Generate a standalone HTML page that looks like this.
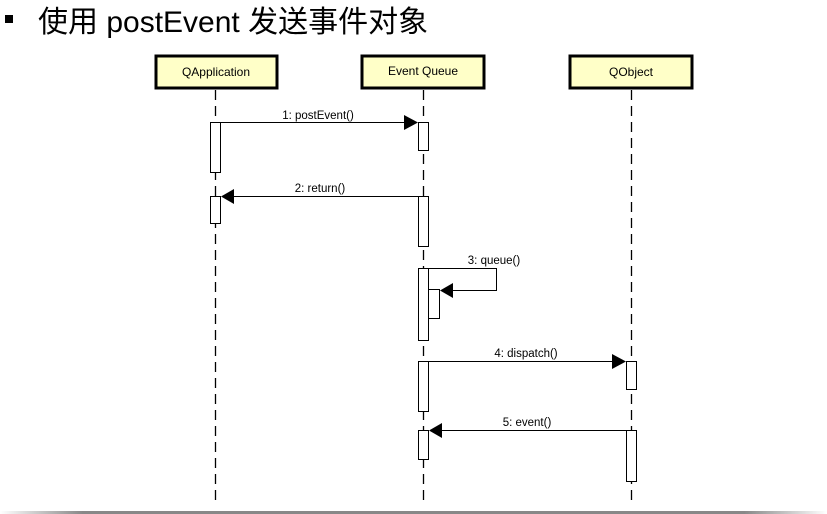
<!DOCTYPE html>
<html><head><meta charset="utf-8"><style>
html,body{margin:0;padding:0;background:#fff;width:827px;height:514px;overflow:hidden}
svg{display:block}
</style></head><body>
<svg width="827" height="514" xmlns="http://www.w3.org/2000/svg">
<defs><linearGradient id="g" x1="0" x2="1"><stop offset="0" stop-color="#fff"/><stop offset="0.1" stop-color="#888"/><stop offset="0.9" stop-color="#888"/><stop offset="1" stop-color="#fff"/></linearGradient></defs>
<rect x="5" y="15" width="8" height="8" fill="#000"/>
<text x="38" y="32" font-family="Liberation Sans, Noto Sans CJK SC, sans-serif" font-size="30" fill="#000">使用 postEvent 发送事件对象</text>
<g font-family="Liberation Sans, sans-serif" font-size="12" fill="#000">
<!-- boxes -->
<g stroke="#000" stroke-width="3" fill="#ffffc8">
<rect x="156" y="56" width="121" height="32"/>
<rect x="362" y="56" width="122" height="32"/>
<rect x="570" y="56" width="122" height="32"/>
</g>
<text x="216" y="76" text-anchor="middle">QApplication</text>
<text x="423" y="75" text-anchor="middle">Event Queue</text>
<text x="631" y="76" text-anchor="middle">QObject</text>
<!-- lifelines -->
<g stroke="#000" stroke-width="1.3" stroke-dasharray="10,6">
<line x1="215.5" y1="90" x2="215.5" y2="506"/>
<line x1="423.5" y1="90" x2="423.5" y2="506"/>
<line x1="631.5" y1="90" x2="631.5" y2="506"/>
</g>
<!-- activations -->
<g stroke="#000" stroke-width="1" fill="#fff">
<rect x="210.5" y="122.5" width="10" height="50"/>
<rect x="210.5" y="196.5" width="10" height="27"/>
<rect x="418.5" y="122.5" width="10" height="28"/>
<rect x="418.5" y="196.5" width="10" height="50"/>
<rect x="418.5" y="268.5" width="10" height="72"/>
<rect x="428.5" y="289.5" width="11" height="29"/>
<rect x="418.5" y="361.5" width="10" height="50"/>
<rect x="418.5" y="430.5" width="10" height="29"/>
<rect x="626.5" y="361.5" width="10" height="28"/>
<rect x="626.5" y="430.5" width="10" height="51"/>
</g>
<!-- messages -->
<g stroke="#000" stroke-width="1" fill="none">
<line x1="220" y1="122.5" x2="406" y2="122.5"/>
<line x1="234" y1="196.5" x2="418" y2="196.5"/>
<polyline points="428,268.5 496.5,268.5 496.5,290.5 452,290.5"/>
<line x1="428" y1="361.5" x2="614" y2="361.5"/>
<line x1="442" y1="430.5" x2="626" y2="430.5"/>
</g>
<g fill="#000">
<polygon points="404,115 418,122.5 404,130"/>
<polygon points="234,189 221,196.5 234,204"/>
<polygon points="453,283 440,290.5 453,298"/>
<polygon points="612,354 626,361.5 612,369"/>
<polygon points="442,423 429,430.5 442,438"/>
</g>
<text x="318" y="119" text-anchor="middle" font-size="11.5">1: postEvent()</text>
<text x="320" y="192" text-anchor="middle" font-size="11.5">2: return()</text>
<text x="494" y="264" text-anchor="middle" font-size="11.5">3: queue()</text>
<text x="526" y="357" text-anchor="middle" font-size="11.5">4: dispatch()</text>
<text x="527" y="426" text-anchor="middle" font-size="11.5">5: event()</text>
</g>
<rect x="0" y="511" width="827" height="3" fill="url(#g)"/>
</svg>
</body></html>
